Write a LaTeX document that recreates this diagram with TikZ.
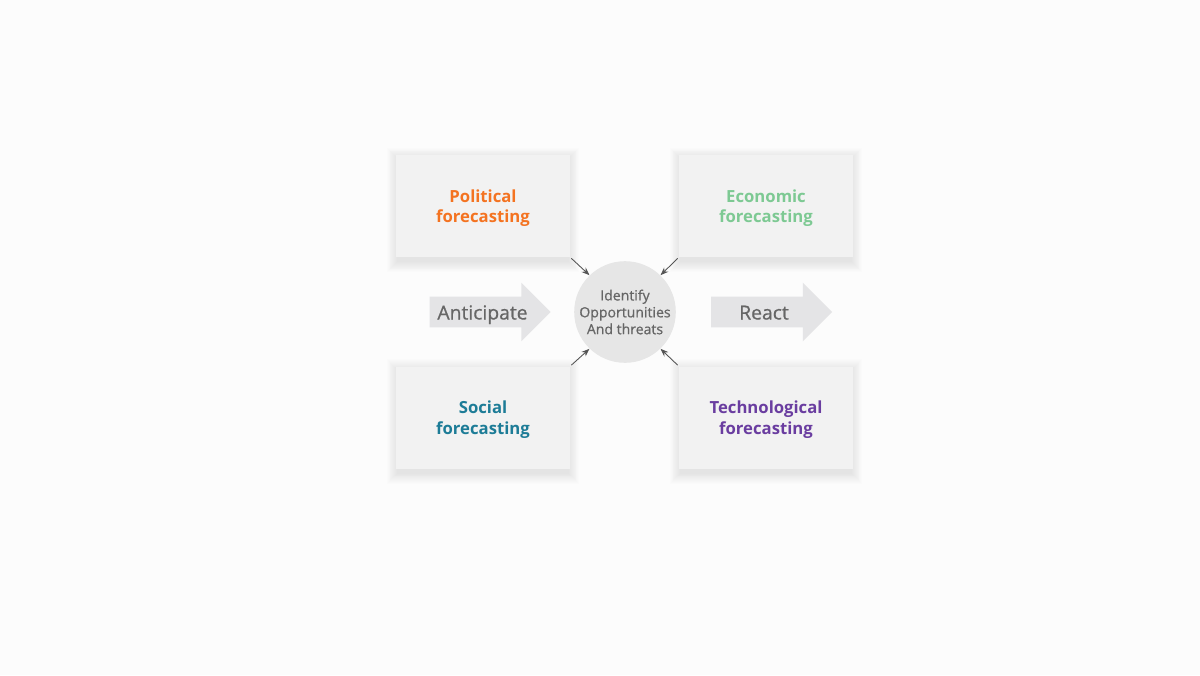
\documentclass[tikz,border=0pt]{standalone}
\usepackage{fontspec}
\setmainfont{Open Sans}
\newfontfamily\semib{Open Sans}[FakeBold=0.7]
\usepackage{tikz}
\usetikzlibrary{
	shapes.arrows,              % For the big Anticipate / React arrows
	arrows.meta,                % For Stealth arrows
	positioning                 % For "below=of node" syntax
}
\pgfdeclarelayer{background}
\pgfsetlayers{background,main}
\definecolor{boxgray}{HTML}{F2F2F2}
\definecolor{hubgray}{HTML}{E6E6E6}
\definecolor{arrowgray}{HTML}{E4E4E6}
\definecolor{textgray}{HTML}{666666}
\definecolor{linegray}{HTML}{555555}
\definecolor{polorange}{HTML}{F47321}
\definecolor{ecogreen}{HTML}{7DC993}
\definecolor{socteal}{HTML}{1D7C97}
\definecolor{techpurple}{HTML}{6A3DA0}
\tikzset{
	area/.style={
		rectangle,
		fill=boxgray,
		minimum width=3.48cm,
		minimum height=2.04cm,
		align=center,
		text depth=0pt,
		font=\fontsize{9.5}{11.6}\selectfont\bfseries
	},
	hub/.style={
		circle,
		fill=hubgray,
		minimum size=1.88cm,
		inner sep=0pt,
		align=center,
		text=textgray,
		font=\fontsize{8}{9.6}\selectfont\semib
	},
	bigarrow/.style={
		single arrow,
		fill=arrowgray,
		minimum height=2.42cm,
		single arrow head extend=0.28cm,
		inner xsep=0pt,
		inner ysep=0.15cm,
		text height=0.3cm,
		text depth=0pt,
		text=textgray,
		font=\fontsize{11}{13}\selectfont\semib
	},
	feed/.style={
		-{Stealth[length=1.6mm, width=1.2mm]},
		draw=linegray,
		line width=0.5pt
	}
}

\begin{document}
\begin{tikzpicture}
	\useasboundingbox (0,0) rectangle (24,13.5);

	% Centre
	\node [hub] (hub) at (12.5,7.26) {Identify\\Opportunities\\And threats};

	% The four forecasting areas
	\node [area, text=polorange] (pol) at (9.66,9.38) {Political\\forecasting};
	\node [area, text=ecogreen] (eco) at (15.32,9.38) {Economic\\forecasting};
	\node [area, text=socteal] (soc) at (9.66,5.15) {Social\\forecasting};
	\node [area, text=techpurple] (tech) at (15.32,5.15) {Technological\\forecasting};

	% Canvas and soft shadows under the boxes
	\begin{pgfonlayer}{background}
		\fill[white!99!black] (0,0) rectangle (24,13.5);
		\foreach \b in {pol,eco,soc,tech}
			\foreach \d in {1,...,12}
				\fill[black, opacity=0.006]
					([shift={(-\d*0.018+0.04,-\d*0.018-0.08)}]\b.south west)
					rectangle ([shift={(\d*0.018-0.04,\d*0.018-0.08)}]\b.north east);
	\end{pgfonlayer}

	% Big arrows either side
	\node [bigarrow] (ant) at (9.65,7.26) {Anticipate\hspace{0.25cm}};
	\node [bigarrow] (react) at (15.28,7.26) {React\hspace{0.25cm}};

	% Feeding into the centre
	\draw [feed] ([shift={(0.02,-0.02)}]pol.south east) -- (hub.134);
	\draw [feed] ([shift={(-0.02,-0.02)}]eco.south west) -- (hub.46);
	\draw [feed] ([shift={(0.02,0.02)}]soc.north east) -- (hub.226);
	\draw [feed] ([shift={(-0.02,0.02)}]tech.north west) -- (hub.-46);
\end{tikzpicture}
\end{document}
